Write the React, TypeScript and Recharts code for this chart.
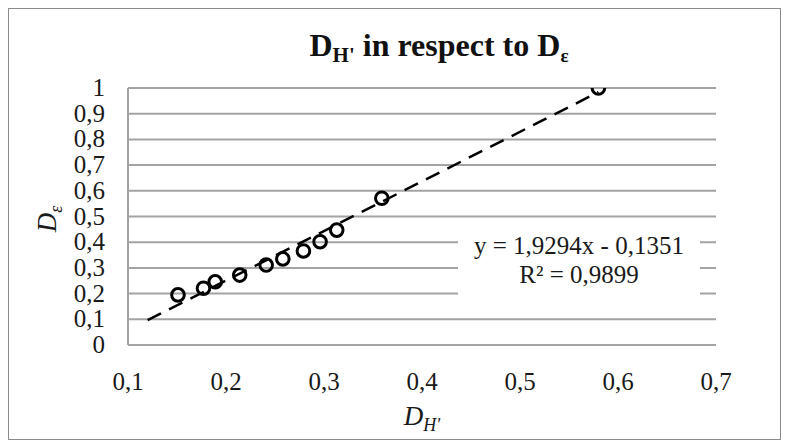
import React from "react";
import {
  ScatterChart,
  Scatter,
  XAxis,
  YAxis,
  CartesianGrid,
  ReferenceLine,
  ReferenceArea,
  Label,
} from "recharts";

// measured pairs
const dH = [0.151, 0.177, 0.189, 0.214, 0.241, 0.258, 0.279, 0.296, 0.313, 0.359, 0.58];
const dE = [0.195, 0.221, 0.246, 0.272, 0.311, 0.335, 0.366, 0.402, 0.447, 0.571, 1.0];

const xTicks = [0.1, 0.2, 0.3, 0.4, 0.5, 0.6, 0.7];
const yTicks = [0, 0.1, 0.2, 0.3, 0.4, 0.5, 0.6, 0.7, 0.8, 0.9, 1];

// linear fit as printed on the chart
const slope = 1.9294;
const intercept = -0.1351;
const rSquared = 0.9899;
const fitRange = [0.12, 0.58];

const points = dH.map((x, i) => ({ x, y: dE[i] }));
const fitSegment = fitRange.map((x) => ({ x, y: slope * x + intercept }));

const fmt = (v: number) =>
  v === 0 || v === 1 ? String(v) : v.toFixed(1).replace(".", ",");
const comma4 = (v: number) => Math.abs(v).toFixed(4).replace(".", ",");

const FONT = "'Liberation Serif', 'Times New Roman', serif";
const GRID = "#a3a3a3";
const INK = "#1a1a1a";

const Ring = (props: any) => (
  <circle cx={props.cx} cy={props.cy} r={6.3} fill="none" stroke="#000" strokeWidth={3} />
);

const XTick = (props: any) => (
  <text x={props.x} y={props.y + 43} textAnchor="middle" fontFamily={FONT} fontSize={25} fill={INK}>
    {fmt(props.payload.value)}
  </text>
);

const YTick = (props: any) => (
  <text x={props.x - 21} y={props.y + 8} textAnchor="end" fontFamily={FONT} fontSize={25} fill={INK}>
    {fmt(props.payload.value)}
  </text>
);

const EquationLabel = (props: any) => {
  const vb = props.viewBox || {};
  const cx = vb.x + vb.width / 2;
  const top = vb.y;
  return (
    <g fontFamily={FONT} fontSize={25} fill={INK} textAnchor="middle">
      <text x={cx} y={top + 25}>
        {`y = ${slope.toFixed(4).replace(".", ",")}x - ${comma4(intercept)}`}
      </text>
      <text x={cx} y={top + 54}>
        {`R² = ${rSquared.toFixed(4).replace(".", ",")}`}
      </text>
    </g>
  );
};

const XTitle = (props: any) => {
  const vb = props.viewBox || {};
  return (
    <text x={vb.x + vb.width / 2} y={416} textAnchor="middle" fontFamily={FONT} fontStyle="italic" fontSize={27} fill={INK}>
      D
      <tspan fontSize={18} dy={6}>H'</tspan>
    </text>
  );
};

const YTitle = () => (
  <text
    x={0}
    y={0}
    transform="translate(47 210) rotate(-90)"
    textAnchor="middle"
    fontFamily={FONT}
    fontStyle="italic"
    fontSize={27}
    fill={INK}
  >
    D
    <tspan fontSize={18} dy={6}>ε</tspan>
  </text>
);

export default function App() {
  return (
    <div
      style={{
        position: "relative",
        width: 773,
        height: 432,
        border: "1.5px solid #8c8c8c",
        boxSizing: "border-box",
        background: "#fff",
        fontFamily: FONT,
      }}
    >
      <svg
        width={770}
        height={80}
        style={{ position: "absolute", left: 0, top: 0, pointerEvents: "none" }}
      >
        <text x={430} y={47} textAnchor="middle" fontFamily={FONT} fontWeight="bold" fontSize={32} fill="#111">
          D<tspan fontSize={21} dy={6}>H'</tspan>
          <tspan dy={-6}> in respect to D</tspan>
          <tspan fontSize={19} dy={6}>ε</tspan>
        </text>
      </svg>
      <ScatterChart
        width={770}
        height={429}
        margin={{ top: 79, right: 63, bottom: 3, left: 59 }}
      >
        <CartesianGrid vertical={false} stroke={GRID} strokeWidth={2} />
        <XAxis
          type="number"
          dataKey="x"
          domain={[0.1, 0.7]}
          ticks={xTicks}
          interval={0}
          axisLine={false}
          tickLine={false}
          tickSize={0}
          height={90}
          tick={<XTick />}
          allowDataOverflow
        >
          <Label content={<XTitle />} />
        </XAxis>
        <YAxis
          type="number"
          dataKey="y"
          domain={[0, 1]}
          ticks={yTicks}
          interval={0}
          axisLine={{ stroke: GRID, strokeWidth: 2 }}
          tickLine={false}
          tickSize={0}
          width={60}
          tick={<YTick />}
          allowDataOverflow
        >
          <Label content={<YTitle />} />
        </YAxis>
        <ReferenceArea
          x1={0.4367}
          x2={0.6837}
          y1={0.15}
          y2={0.45}
          fill="#fff"
          fillOpacity={1}
          stroke="none"
          label={<EquationLabel />}
        />
        <ReferenceLine
          segment={fitSegment}
          stroke="#000"
          strokeWidth={2.5}
          strokeDasharray="15 9"
        />
        <Scatter data={points} shape={<Ring />} isAnimationActive={false} />
      </ScatterChart>
    </div>
  );
}
